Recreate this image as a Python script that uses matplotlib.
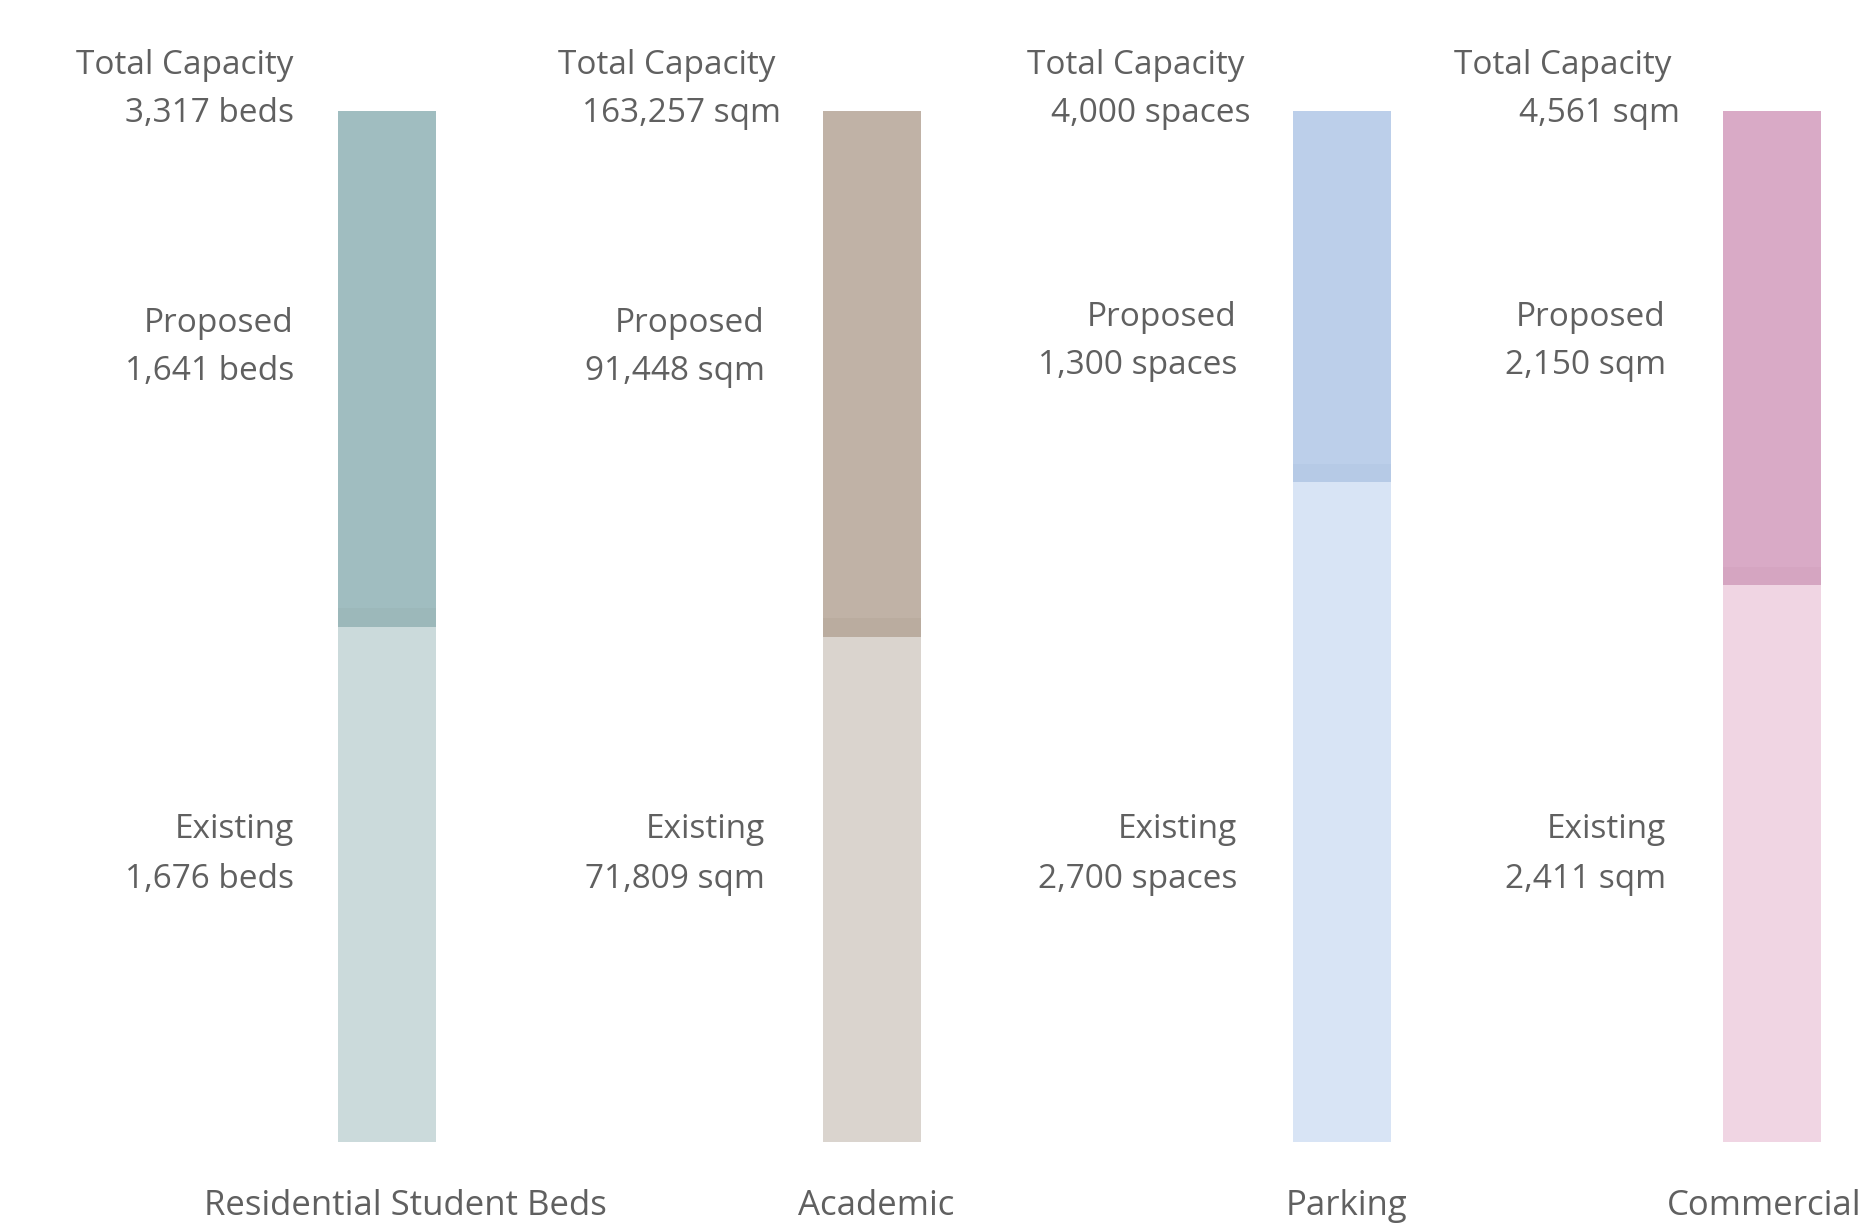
"""
Capacidad total por uso: existente vs propuesto (barras apiladas verticales).
"""

import matplotlib.pyplot as plt

# Datos
categorias = ["Residential Student Beds", "Academic", "Parking", "Commercial"]
unidades = ["beds", "sqm", "spaces", "sqm"]
existente = [1676, 71809, 2700, 2411]
propuesto = [1641, 91448, 1300, 2150]
total = [3317, 163257, 4000, 4561]
# fracción "existente" tal como se dibuja en la figura (no es proporcional al dato)
fraccion_existente = [0.50, 0.49, 0.64, 0.54]

colores_propuesto = ["#a0bdc0", "#c0b2a6", "#bccfea", "#d9aac6"]
colores_existente = ["#cbdadb", "#dad4ce", "#d8e4f5", "#f0d5e3"]
colores_franja = ["#9cb8ba", "#baac9f", "#b6cae6", "#d5a5c1"]

# Layout en píxeles (figura 1865x1227)
W, H = 1865, 1227
centros = [387, 872, 1342, 1772]
ancho = 98
y_base, y_tope = 1142, 111
x_texto = [
    (294, 294, 294),  # total, propuesto, existente
    (776, 765, 765),
    (1245, 1237, 1237),
    (1672, 1666, 1666),
]
dx_total = [0, 5, 6, 8]
# (x, alineación) de las etiquetas inferiores; la última queda pegada al borde
x_categoria = [(405, "center"), (876, "center"), (1347, "center"), (1862, "right")]
y_total = (65, 113)
y_propuesto = [(324, 371), (324, 371), (318, 365), (318, 365)]
y_existente = (830, 879)

plt.rcParams["font.family"] = ["Open Sans", "DejaVu Sans"]
gris = "#606060"

fig = plt.figure(figsize=(W / 100, H / 100), dpi=100)
ax = fig.add_axes([0, (H - y_base) / H, 1, (y_base - y_tope) / H])
ax.set_xlim(0, W)
ax.set_ylim(0, 1)
ax.axis("off")

# Barras apiladas
ax.bar(centros, fraccion_existente, width=ancho, color=colores_existente, linewidth=0)
prop = [1 - f for f in fraccion_existente]
ax.bar(centros, prop, bottom=fraccion_existente, width=ancho,
       color=colores_propuesto, linewidth=0)
# franja algo más oscura al pie del tramo propuesto
ax.bar(centros, [0.018] * 4, bottom=fraccion_existente, width=ancho,
       color=colores_franja, linewidth=0)


def txt(x, y, s, ha="right", size=24):
    fig.text(x / W, 1 - y / H, s, ha=ha, va="center", fontsize=size, color=gris)


for i in range(len(categorias)):
    xt, xp, xe = x_texto[i]
    txt(xt, y_total[0], "Total Capacity")
    txt(xt + dx_total[i], y_total[1], f"{total[i]:,} {unidades[i]}")
    txt(xp, y_propuesto[i][0], "Proposed")
    txt(xp, y_propuesto[i][1], f"{propuesto[i]:,} {unidades[i]}")
    txt(xe, y_existente[0], "Existing")
    txt(xe, y_existente[1], f"{existente[i]:,} {unidades[i]}")
    xc, alin = x_categoria[i]
    txt(xc, 1206, categorias[i], ha=alin, size=25)

fig.savefig("out.png", dpi=100, facecolor="white")
